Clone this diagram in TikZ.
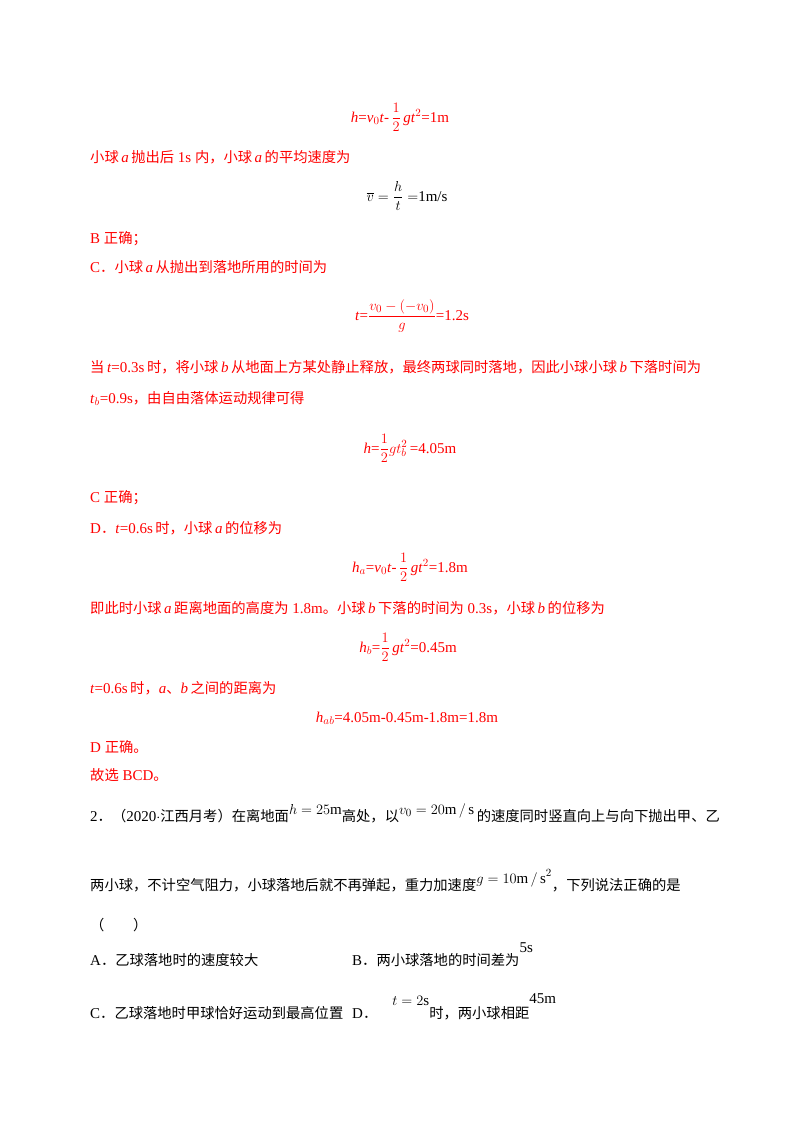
\documentclass[tikz,border=0pt]{standalone}
\usepackage{fontspec}
\setmainfont{Liberation Serif}
\newfontfamily\cjk{Noto Sans CJK SC}
\newcommand{\C}[1]{{\cjk\fontsize{14.3pt}{16pt}\selectfont #1}}
\definecolor{ans}{RGB}{255,0,0}
\begin{document}
\begin{tikzpicture}[x=1pt,y=-1pt,
  t/.style={anchor=base west,inner sep=0pt,font=\fontsize{15pt}{18pt}\selectfont},
  r/.style={t,text=ans},
  m/.style={anchor=base,inner sep=0pt,text=ans,font=\fontsize{15pt}{18pt}\selectfont}]
\useasboundingbox[fill=white] (0,0) rectangle (800,1132);
\node[m] (f1) at (400,122) {\textit{h}=\textit{v}$_0$\textit{t}-\,\({\displaystyle\frac{1}{2}}\)\,\textit{gt}$^2$=1m};
\node[r] (l1) at (90,162) {\C{小球}\,\textit{a}\,\C{抛出后} 1s \C{内，小球}\,\textit{a}\,\C{的平均速度为}};
\node[m,text=black] (f2) at (407,201) {\(\displaystyle\overline{v}=\frac{h}{t}=\)1m/s};
\node[r] (l2) at (90,243) {B \C{正确；}};
\node[r] (l3) at (90,272) {C\C{．小球}\,\textit{a}\,\C{从抛出到落地所用的时间为}};
\node[m] (f3) at (412,320) {\textit{t}=\(\displaystyle\frac{v_0-(-v_0)}{g}\)=1.2s};
\node[r] (l4) at (90,372) {\C{当}\,\textit{t}=0.3s\,\C{时，将小球}\,\textit{b}\,\C{从地面上方某处静止释放，最终两球同时落地，因此小球小球}\,\textit{b}\,\C{下落时间为}};
\node[r] (l5) at (90,403) {\textit{t}$_b$=0.9s\C{，由自由落体运动规律可得}};
\node[m] (f4) at (410,453) {\textit{h}=\(\displaystyle\frac{1}{2}gt_b^2\)\,=4.05m};
\node[r] (l6) at (90,502) {C \C{正确；}};
\node[r] (l7) at (90,533) {D\C{．}\textit{t}=0.6s\,\C{时，小球}\,\textit{a}\,\C{的位移为}};
\node[m] (f5) at (410,572) {\textit{h}$_a$=\textit{v}$_0$\textit{t}-\,\(\displaystyle\frac{1}{2}\)\,\textit{gt}$^2$=1.8m};
\node[r] (l8) at (90,613) {\C{即此时小球}\,\textit{a}\,\C{距离地面的高度为} 1.8m\C{。小球}\,\textit{b}\,\C{下落的时间为} 0.3s\C{，小球}\,\textit{b}\,\C{的位移为}};
\node[m] (f6) at (408,652) {\textit{h}$_b$=\(\displaystyle\frac{1}{2}\)\,\textit{gt}$^2$=0.45m};
\node[r] (l9) at (90,693) {\textit{t}=0.6s\,\C{时，}\textit{a}\C{、}\textit{b}\,\C{之间的距离为}};
\node[m] (f7) at (407,722) {\textit{h}$_{ab}$=4.05m-0.45m-1.8m=1.8m};
\node[r] (l10) at (90,752) {D \C{正确。}};
\node[r] (l11) at (90,780) {\C{故选} BCD\C{。}};
\node[t] (q1) at (90,821) {2\C{．（}2020\(\cdot\)\C{江西月考）在离地面}\raisebox{7pt}{\(h=25\mathrm{m}\)}\C{高处，以}\raisebox{7pt}{\(v_0=20\mathrm{m\,/\,s}\)}\,\C{的速度同时竖直向上与向下抛出甲、乙}};
\node[t] (q2) at (90,890) {\C{两小球，不计空气阻力，小球落地后就不再弹起，重力加速度}\raisebox{7pt}{\(g=10\mathrm{m\,/\,s}^2\)}\C{，下列说法正确的是}};
\node[t] (q3) at (90,930) {\C{（\quad\quad）}};
\node[t] (oa) at (90,965) {A\C{．乙球落地时的速度较大}};
\node[t] (ob) at (352,965) {B\C{．两小球落地的时间差为}\raisebox{13pt}{5s}};
\node[t] (oc) at (90,1018) {C\C{．乙球落地时甲球恰好运动到最高位置}};
\node[t] (od) at (352,1018) {D\C{．}\quad\raisebox{13pt}{\(t=2\mathrm{s}\)}\C{时，两小球相距}\raisebox{15pt}{45m}};
\end{tikzpicture}
\end{document}
